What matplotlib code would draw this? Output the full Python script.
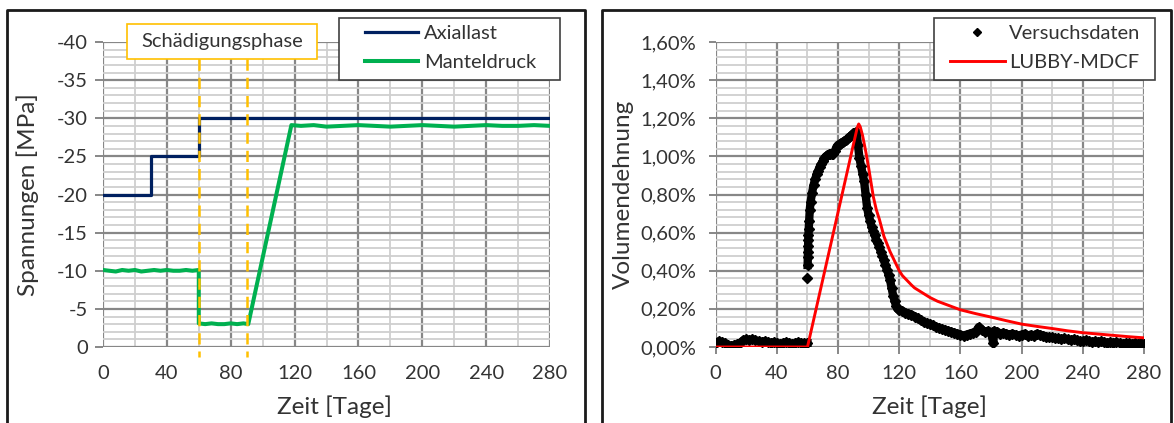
import numpy as np
import matplotlib

matplotlib.use("Agg")
import matplotlib.pyplot as plt
from matplotlib.lines import Line2D
from matplotlib.patches import Rectangle
from matplotlib.ticker import FuncFormatter, MultipleLocator

plt.rcParams["font.family"] = ["Lato", "DejaVu Sans"]
plt.rcParams["axes.unicode_minus"] = False

# --- Belastungsgeschichte (Zeit in Tagen, Spannung in MPa) ---
axial_days = [0, 30, 60, 280]
axial_mpa = [-20, -25, -30, -30]

mantel_days = [0, 4, 8, 12, 16, 20, 24, 28, 32, 36, 40, 44, 48, 52, 56, 60,
               60, 64, 68, 72, 76, 80, 84, 88, 91,
               118, 124, 132, 140, 150, 160, 170, 180, 190, 200, 210, 220,
               230, 240, 250, 260, 270, 280]
mantel_mpa = [-10.1, -10.0, -9.9, -10.1, -10.0, -10.1, -9.9, -10.0, -10.1, -10.0,
              -10.1, -10.0, -10.0, -10.1, -10.0, -10.1,
              -3.1, -3.0, -3.1, -3.0, -3.0, -3.1, -3.0, -3.1, -3.0,
              -29.1, -29.0, -29.1, -28.9, -29.0, -29.1, -29.0, -28.9, -29.0,
              -29.1, -29.0, -28.9, -29.0, -29.1, -29.0, -29.0, -29.1, -29.0]

phase_bounds = [60, 90]

# --- Volumendehnung in %, Versuchsdaten in Abschnitten ---
base_days = [0, 2, 4, 6, 8, 10, 12, 14, 16, 18, 20, 22, 24, 26, 28, 30,
             32, 34, 36, 38, 40, 42, 44, 46, 48, 50, 52, 54, 56, 58, 60]
base_pct = [0.02, 0.03, 0.025, 0.02, 0.01, 0.005, 0.01, 0.015, 0.02, 0.035,
            0.04, 0.035, 0.04, 0.035, 0.03, 0.025, 0.03, 0.025, 0.02, 0.025,
            0.02, 0.015, 0.02, 0.025, 0.02, 0.015, 0.02, 0.025, 0.02, 0.02, 0.02]

jump_days = [60.0]
jump_pct = [0.36]

rise_days = [60.1, 60.2, 60.3, 60.4, 60.5, 60.6, 60.8, 61, 61.5,
             62, 63, 64, 65, 66, 67, 68, 69, 70, 71, 72, 73, 74, 75, 76, 77,
             78, 79, 80, 81, 82, 83, 84, 85, 86, 87, 88, 89, 90, 91, 92]
rise_pct = [0.43, 0.47, 0.50, 0.53, 0.56, 0.59, 0.62, 0.66, 0.72,
            0.76, 0.81, 0.85, 0.88, 0.905, 0.925, 0.945, 0.96, 0.975, 0.99,
            1.0, 1.005, 1.01, 1.01, 1.01, 1.015, 1.03, 1.05, 1.06, 1.065,
            1.07, 1.075, 1.08, 1.085, 1.09, 1.10, 1.105, 1.11, 1.12, 1.125, 1.13]

decay_days = [93, 94, 95, 96, 97, 98, 99, 100, 101, 102, 103, 104, 105, 106,
              107, 108, 109, 110, 111, 112, 113, 114, 115, 116, 117, 118, 119, 120]
decay_pct = [1.06, 0.99, 0.95, 0.91, 0.87, 0.80, 0.73, 0.69, 0.66, 0.63,
             0.61, 0.585, 0.56, 0.545, 0.525, 0.50, 0.48, 0.455, 0.43, 0.405,
             0.38, 0.35, 0.31, 0.27, 0.24, 0.215, 0.20, 0.195]

late_days = [122, 124, 126, 128, 130, 132, 134, 136, 138, 140,
             142, 144, 146, 148, 150, 152, 154, 156, 158, 160,
             162, 164, 166, 168, 170, 172, 174, 176, 178, 180,
             181.5, 182,
             184, 186, 188, 190, 192, 194, 196, 198, 200,
             202, 204, 206, 208, 210, 212, 214, 216, 218, 220,
             222, 224, 226, 228, 230, 232, 234, 236, 238, 240,
             242, 244, 246, 248, 250, 252, 254, 256, 258, 260,
             262, 264, 266, 268, 270, 272, 274, 276, 278, 280]
late_pct = [0.19, 0.18, 0.175, 0.17, 0.16, 0.15, 0.14, 0.13, 0.125, 0.12,
            0.113, 0.105, 0.10, 0.095, 0.09, 0.085, 0.08, 0.075, 0.07, 0.065,
            0.06, 0.065, 0.07, 0.075, 0.08, 0.105, 0.09, 0.08, 0.085, 0.075,
            0.02, 0.085,
            0.08, 0.07, 0.075, 0.07, 0.065, 0.07, 0.065, 0.06, 0.065,
            0.07, 0.06, 0.065, 0.06, 0.07, 0.065, 0.06, 0.055, 0.05, 0.05,
            0.045, 0.045, 0.04, 0.045, 0.04, 0.035, 0.04, 0.035, 0.03, 0.03,
            0.035, 0.03, 0.025, 0.03, 0.025, 0.03, 0.025, 0.02, 0.025, 0.02,
            0.025, 0.02, 0.015, 0.02, 0.02, 0.015, 0.02, 0.015, 0.02, 0.015]

# LUBBY-MDCF Modellkurve
model_days = [0, 60, 92.5, 93.5, 94.5, 96, 98, 100, 103, 105, 107, 110, 114,
              117, 120, 122, 125, 128, 130, 135, 140, 145, 150, 160, 170, 180,
              190, 200, 210, 220, 230, 240, 250, 260, 270, 280]
model_pct = [0, 0, 1.15, 1.17, 1.155, 1.11, 1.03, 0.94, 0.79, 0.72, 0.67,
             0.58, 0.50, 0.45, 0.40, 0.375, 0.35, 0.325, 0.31, 0.285, 0.26,
             0.24, 0.225, 0.195, 0.175, 0.157, 0.138, 0.12, 0.108, 0.097,
             0.085, 0.075, 0.068, 0.061, 0.054, 0.048]

W, H = 1174, 423
TXT = "#333333"
NAVY = "#002060"
GREEN = "#00B050"
GOLD = "#FFC000"
RED = "#FF0000"
FS_TICK = 14.5
FS_LABEL = 17.5


def fx(px):
    return px / W


def fy(py):
    return 1 - py / H


def style_grid(ax, xmajor, xminor, ymajor, yminor):
    ax.xaxis.set_major_locator(MultipleLocator(xmajor))
    ax.xaxis.set_minor_locator(MultipleLocator(xminor))
    ax.yaxis.set_major_locator(MultipleLocator(ymajor))
    ax.yaxis.set_minor_locator(MultipleLocator(yminor))
    ax.grid(which="minor", color="#CFCFCF", lw=1.3, zorder=0)
    ax.grid(which="major", color="#878787", lw=1.6, zorder=0)
    ax.set_axisbelow(True)
    for s in ax.spines.values():
        s.set_visible(False)
    ax.tick_params(which="minor", length=0)
    ax.tick_params(which="major", labelsize=FS_TICK, labelcolor=TXT,
                   color="#878787", width=1.4)


fig = plt.figure(figsize=(W / 100, H / 100), dpi=100)

# panel frames (open at the bottom)
for x0, x1 in [(7, 585), (602, 1171)]:
    fig.add_artist(Line2D([fx(x0), fx(x0), fx(x1), fx(x1)],
                          [fy(440), fy(10), fy(10), fy(440)],
                          color="#1A1A1A", lw=2.0, transform=fig.transFigure))

# --- left: Spannungen ---
ax1 = fig.add_axes([fx(103), fy(347), fx(550) - fx(103), fy(42) - fy(347)])
ax1.plot(axial_days, axial_mpa, drawstyle="steps-post", color=NAVY, lw=2.3,
         label="Axiallast", zorder=3)
ax1.plot(mantel_days, mantel_mpa, color=GREEN, lw=2.9, label="Manteldruck", zorder=3)
ax1.set_xlim(0, 280)
ax1.set_ylim(0, -40)
style_grid(ax1, 40, 20, 5, 1)
ax1.tick_params(axis="x", which="major", length=0, pad=13)
ax1.tick_params(axis="y", which="major", length=6, pad=5)
ax1.set_xlabel("Zeit [Tage]", fontsize=FS_LABEL, color=TXT)
ax1.set_ylabel("Spannungen [MPa]", fontsize=FS_LABEL, color=TXT)
ax1.xaxis.set_label_coords(0.517, -0.16)
ax1.yaxis.set_label_coords(-0.143, 0.5)

for d in phase_bounds:
    ax1.plot([d, d], [-37.8, 1.3], color=GOLD, lw=1.8, ls=(0, (4.5, 2.8)),
             clip_on=False, zorder=4)
ax1.add_patch(Rectangle((15, -42.4), 119, 4.6, facecolor="white", edgecolor=GOLD,
                        lw=1.2, clip_on=False, zorder=5))
ax1.text(74.5, -40.1, "Schädigungsphase", fontsize=FS_TICK, color=TXT,
         ha="center", va="center", zorder=6, clip_on=False)

fig.add_artist(Rectangle((fx(339), fy(80)), fx(560) - fx(339), fy(18) - fy(80),
                         facecolor="white", edgecolor="#404040", lw=1.2,
                         transform=fig.transFigure, zorder=5))
leg1 = fig.legend(*ax1.get_legend_handles_labels(), loc="center left",
                  bbox_to_anchor=(fx(365), fy(48)),
                  frameon=False, fontsize=FS_TICK, handlelength=2.63,
                  handletextpad=0.3, labelspacing=0.62, borderpad=0,
                  borderaxespad=0, labelcolor=TXT)
leg1.set_zorder(6)

# --- right: Volumendehnung ---
ax2 = fig.add_axes([fx(715.7), fy(347), fx(1144) - fx(715.7), fy(42) - fy(347)])
segments = [(base_days, base_pct), (jump_days, jump_pct),
            (rise_days + decay_days + late_days, rise_pct + decay_pct + late_pct)]
for days, pct in segments:
    ax2.plot(days, pct, color="black", lw=6.0, marker="D", ms=5.4, zorder=3)
ax2.plot(model_days, model_pct, color=RED, lw=2.1, zorder=4)
ax2.set_xlim(0, 280)
ax2.set_ylim(0, 1.6)
style_grid(ax2, 40, 20, 0.2, 0.04)
ax2.tick_params(axis="x", which="major", length=5, pad=8)
ax2.tick_params(axis="y", which="major", length=5, pad=9)
ax2.yaxis.set_major_formatter(FuncFormatter(lambda v, p: f"{v:.2f}%".replace(".", ",")))
ax2.set_xlabel("Zeit [Tage]", fontsize=FS_LABEL, color=TXT)
ax2.set_ylabel("Volumendehnung", fontsize=FS_LABEL, color=TXT)
ax2.xaxis.set_label_coords(0.5, -0.16)
ax2.yaxis.set_label_coords(-0.19, 0.5)

fig.add_artist(Rectangle((fx(934), fy(80)), fx(1155) - fx(934), fy(18) - fy(80),
                         facecolor="white", edgecolor="#404040", lw=1.2,
                         transform=fig.transFigure, zorder=5))
handles2 = [Line2D([], [], ls="none", marker="D", ms=4.0, color="black"),
            Line2D([], [], color=RED, lw=2.1)]
leg2 = fig.legend(handles2, ["Versuchsdaten", "LUBBY-MDCF"], loc="center left",
                  bbox_to_anchor=(fx(950), fy(48)), frameon=False, fontsize=FS_TICK,
                  handlelength=2.73, handletextpad=0.2, labelspacing=0.62,
                  borderpad=0, borderaxespad=0, labelcolor=TXT)
leg2.set_zorder(6)

fig.savefig("out.png", dpi=100)
